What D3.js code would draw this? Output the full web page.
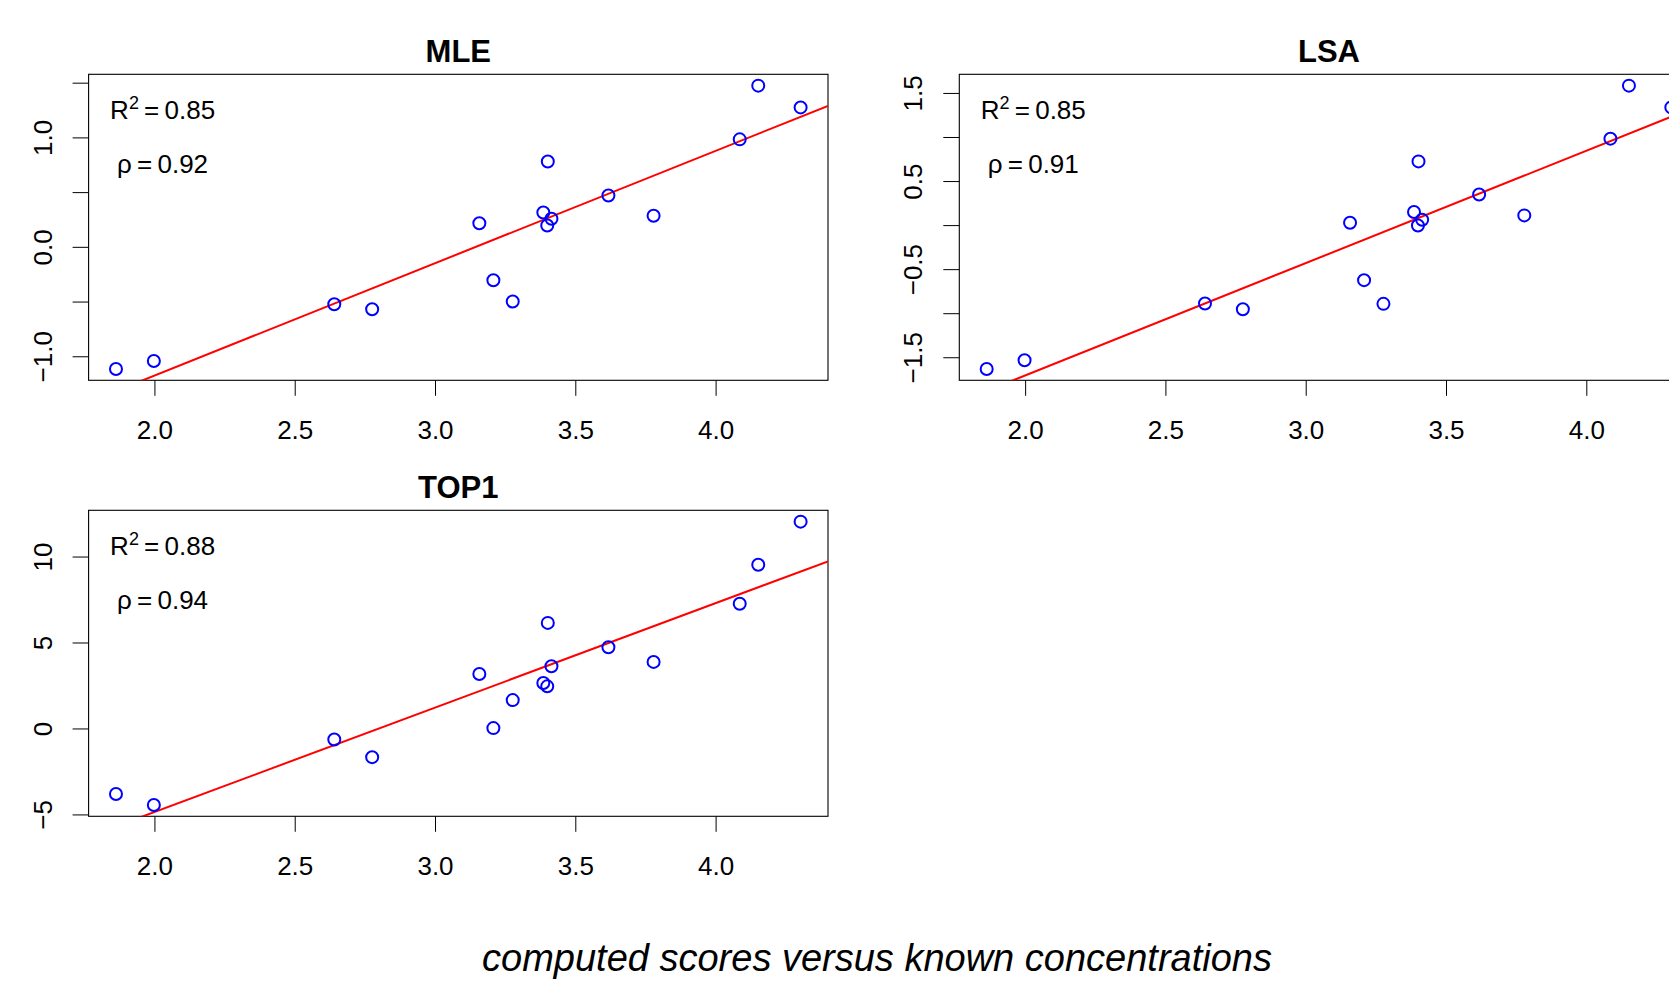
<!DOCTYPE html>
<html><head><meta charset="utf-8">
<script src="https://cdn.jsdelivr.net/npm/d3@7"></script>
<style>body{margin:0;background:#fff;overflow:hidden}svg{display:block}</style>
</head><body>
<svg id="chart" width="1669" height="981"></svg>
<script>
// ---------- data ----------
const concentrations = [1.863, 1.998, 2.641, 2.776, 3.158, 3.208, 3.277, 3.386, 3.402, 3.400, 3.415, 3.618, 3.779, 4.086, 4.152, 4.303];
const mleScores  = [-1.116, -1.043, -0.524, -0.570, 0.216, -0.306, -0.500, 0.314, 0.780, 0.195, 0.256, 0.469, 0.284, 0.982, 1.473, 1.274];
const lsaScores  = [-1.633, -1.534, -0.890, -0.955, 0.027, -0.625, -0.894, 0.148, 0.723, -0.004, 0.061, 0.348, 0.110, 0.981, 1.583, 1.336];
const top1Scores = [-3.81, -4.45, -0.64, -1.67, 3.17, 0.02, 1.65, 2.64, 6.14, 2.45, 3.62, 4.72, 3.87, 7.25, 9.52, 12.03];

const panelTitles = ["MLE", "LSA", "TOP1"];
const r2Labels  = ["0.85", "0.85", "0.88"];
const rhoLabels = ["0.92", "0.91", "0.94"];

const xTicks      = [2.0, 2.5, 3.0, 3.5, 4.0];
const xTickLabels = ["2.0", "2.5", "3.0", "3.5", "4.0"];
const mleYTicks       = [-1.0, -0.5, 0, 0.5, 1.0, 1.5];
const mleYTickLabels  = ["\u22121.0", "", "0.0", "", "1.0", ""];
const lsaYTicks       = [-1.5, -1.0, -0.5, 0, 0.5, 1.0, 1.5];
const lsaYTickLabels  = ["\u22121.5", "", "\u22120.5", "", "0.5", "", "1.5"];
const top1YTicks      = [-5, 0, 5, 10];
const top1YTickLabels = ["\u22125", "0", "5", "10"];

const caption = "computed scores versus known concentrations";

// ---------- layout ----------
const FONT = "'Liberation Sans', Arial, Helvetica, sans-serif";
const colW = 870.7, rowH = 436;
const box = {left: 88.6, right: 828, top: 74.3, bottom: 380.3};

const panels = [
  {title: panelTitles[0], y: mleScores,  yTicks: mleYTicks,  yLabels: mleYTickLabels,  r2: r2Labels[0], rho: rhoLabels[0], col: 0, row: 0},
  {title: panelTitles[1], y: lsaScores,  yTicks: lsaYTicks,  yLabels: lsaYTickLabels,  r2: r2Labels[1], rho: rhoLabels[1], col: 1, row: 0},
  {title: panelTitles[2], y: top1Scores, yTicks: top1YTicks, yLabels: top1YTickLabels, r2: r2Labels[2], rho: rhoLabels[2], col: 0, row: 1}
];

const svg = d3.select("#chart");
svg.append("rect").attr("width", 1669).attr("height", 981).attr("fill", "#fff");

// R-style range extension (4% each side)
function rExtent(arr) {
  const [a, b] = d3.extent(arr);
  const p = (b - a) * 0.04;
  return [a - p, b + p];
}
function linFit(xs, ys) {
  const mx = d3.mean(xs), my = d3.mean(ys);
  let sxy = 0, sxx = 0;
  xs.forEach((x, i) => { sxy += (x - mx) * (ys[i] - my); sxx += (x - mx) * (x - mx); });
  const b = sxy / sxx;
  return {a: my - b * mx, b};
}

panels.forEach((p, pi) => {
  const g = svg.append("g").attr("transform", `translate(${p.col * colW},${p.row * rowH})`);
  const x = d3.scaleLinear().domain(rExtent(concentrations)).range([box.left, box.right]);
  const y = d3.scaleLinear().domain(rExtent(p.y)).range([box.bottom, box.top]);

  const clipId = "clip" + pi;
  g.append("clipPath").attr("id", clipId)
    .append("rect").attr("x", box.left).attr("y", box.top)
    .attr("width", box.right - box.left).attr("height", box.bottom - box.top);

  // x axis
  const xa = g.append("g").attr("transform", `translate(0,${box.bottom})`)
    .call(d3.axisBottom(x).tickValues(xTicks).tickFormat((d, i) => xTickLabels[i])
      .tickSize(15.5).tickSizeOuter(0).tickPadding(24.5));
  xa.select(".domain").remove();
  xa.selectAll("line").attr("stroke", "#000").attr("stroke-width", 1);
  xa.selectAll("text").attr("font-family", FONT).attr("font-size", 26).attr("fill", "#000");

  // y axis
  const ya = g.append("g").attr("transform", `translate(${box.left},0)`)
    .call(d3.axisLeft(y).tickValues(p.yTicks).tickFormat((d, i) => p.yLabels[i])
      .tickSize(16).tickSizeOuter(0));
  ya.select(".domain").remove();
  ya.selectAll("line").attr("stroke", "#000").attr("stroke-width", 1);
  ya.selectAll("text")
    .attr("font-family", FONT).attr("font-size", 26).attr("fill", "#000")
    .attr("x", null).attr("dy", null).attr("text-anchor", "middle")
    .attr("transform", "translate(-37,0) rotate(-90)");

  // box
  g.append("rect").attr("x", box.left).attr("y", box.top)
    .attr("width", box.right - box.left).attr("height", box.bottom - box.top)
    .attr("fill", "none").attr("stroke", "#000").attr("stroke-width", 1.1);

  // regression line
  const fit = linFit(concentrations, p.y);
  const xd = x.domain();
  g.append("line").attr("clip-path", `url(#${clipId})`)
    .attr("x1", x(xd[0])).attr("y1", y(fit.a + fit.b * xd[0]))
    .attr("x2", x(xd[1])).attr("y2", y(fit.a + fit.b * xd[1]))
    .attr("stroke", "#ff0000").attr("stroke-width", 2);

  // points
  g.selectAll("circle.pt").data(concentrations).join("circle").attr("class", "pt")
    .attr("cx", d => x(d)).attr("cy", (d, i) => y(p.y[i]))
    .attr("r", 6).attr("fill", "none").attr("stroke", "#0000ff").attr("stroke-width", 2);

  // title
  g.append("text").attr("x", (box.left + box.right) / 2).attr("y", 61.7)
    .attr("text-anchor", "middle").attr("font-family", FONT).attr("font-weight", "bold")
    .attr("font-size", 31).attr("fill", "#000").text(p.title);

  // annotations
  const cx = box.left + 74;
  const t1 = g.append("text").attr("x", cx).attr("y", 119).attr("text-anchor", "middle")
    .attr("font-family", FONT).attr("font-size", 26).attr("fill", "#000");
  t1.append("tspan").text("R");
  t1.append("tspan").attr("dy", -10).attr("font-size", 18).text("2");
  t1.append("tspan").attr("dy", 10).text("\u2009=\u2009" + p.r2);
  g.append("text").attr("x", cx).attr("y", 173).attr("text-anchor", "middle")
    .attr("font-family", FONT).attr("font-size", 26).attr("fill", "#000")
    .text("\u03c1\u2009=\u2009" + p.rho);
});

svg.append("text").attr("x", 877).attr("y", 971).attr("text-anchor", "middle")
  .attr("font-family", FONT).attr("font-style", "italic").attr("font-size", 38)
  .attr("fill", "#000").text(caption);
</script>
</body></html>
